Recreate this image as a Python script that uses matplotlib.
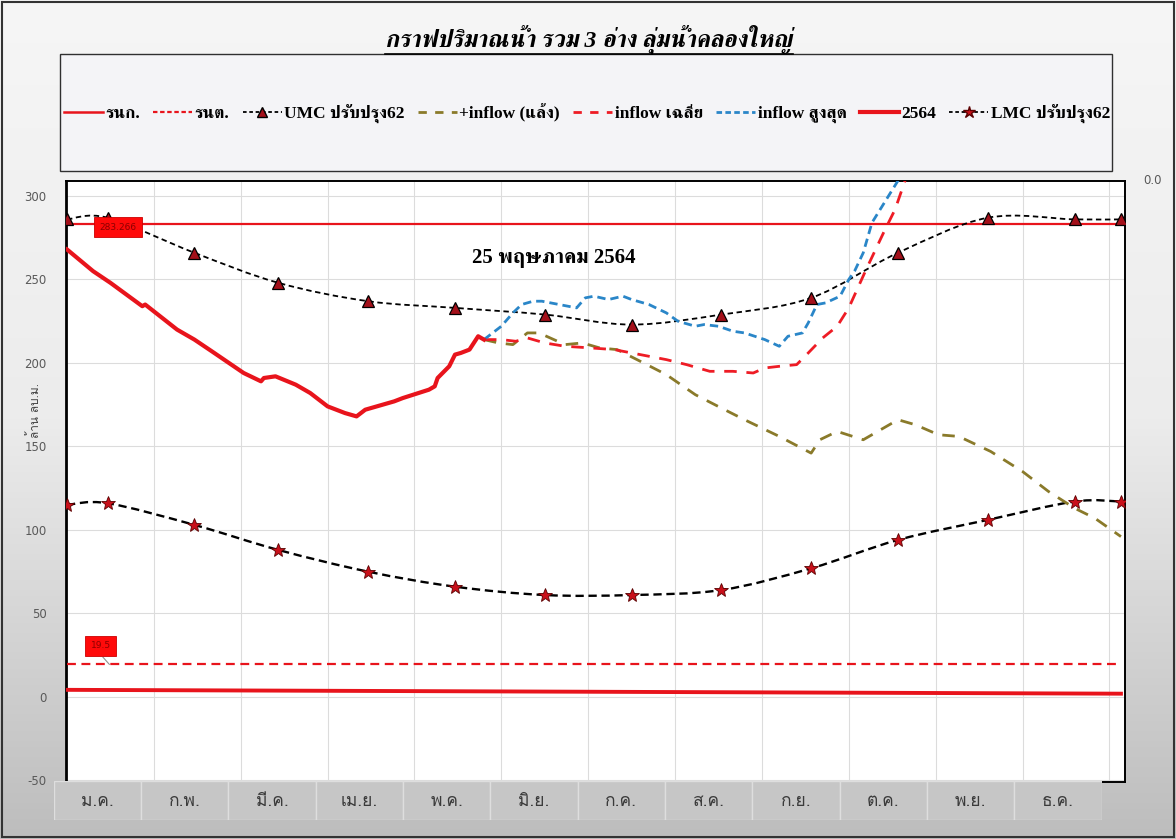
import numpy as np
import matplotlib
matplotlib.use('Agg')
import matplotlib.pyplot as plt
from matplotlib import font_manager
from matplotlib.ft2font import FT2Font
from matplotlib.path import Path
from matplotlib.patches import PathPatch, Rectangle
from matplotlib.lines import Line2D
from matplotlib.colors import LinearSegmentedColormap

# ---------------- data ----------------
months = ['ม.ค.', 'ก.พ.', 'มี.ค.', 'เม.ย.', 'พ.ค.', 'มิ.ย.', 'ก.ค.', 'ส.ค.', 'ก.ย.', 'ต.ค.', 'พ.ย.', 'ธ.ค.']

rule_days = [0, 364]
upper_rule = [283.266, 283.266]
lower_rule = [19.5, 19.5]
base_vals = [4.2, 1.9]

curve_days = [0, 14, 44, 73, 104, 134, 165, 195, 226, 257, 287, 318, 348, 364]
umc_vals = [286, 287, 266, 248, 237, 233, 229, 223, 229, 239, 266, 287, 286, 286]
lmc_vals = [115, 116, 103, 88, 75, 66, 61, 61, 64, 77, 94, 106, 117, 117]

y2564_days = [0, 9, 15, 26, 27, 38, 44, 50, 61, 67, 68, 72, 79, 84, 90, 96, 100, 103,
              113, 116, 125, 127, 128, 132, 134, 136, 139, 142, 144]
y2564_vals = [268, 255, 248, 234, 235, 220, 214, 207, 194, 189, 191, 192, 187, 182, 174, 170,
              168, 172, 177, 179, 184, 186, 191, 198, 205, 206, 208, 216, 214]

max_days = [144, 150, 154, 157, 161, 164, 170, 176, 179, 182, 187, 192, 195, 201, 207, 211,
            217, 220, 225, 230, 234, 241, 246, 249, 254, 256, 259, 262, 267, 270, 272, 275,
            278, 283, 288]
max_vals = [214, 222, 230, 235, 237, 237, 235, 233, 239, 240, 238, 240, 238, 235, 230, 225,
            222, 223, 222, 219, 218, 214, 210, 216, 218, 224, 235, 236, 240, 250, 255, 266,
            284, 298, 312]

avg_days = [144, 150, 155, 159, 165, 172, 181, 189, 198, 207, 214, 222, 230, 237, 241, 246,
            252, 256, 261, 266, 270, 276, 282, 286, 290]
avg_vals = [214, 214, 213, 215, 212, 210, 209, 208, 205, 202, 199, 195, 195, 194, 197, 198,
            199, 206, 215, 222, 233, 256, 278, 292, 312]

dry_days = [144, 149, 154, 159, 163, 172, 178, 184, 190, 198, 207, 217, 226, 234, 246, 257,
            260, 266, 275, 287, 293, 301, 308, 319, 330, 339, 348, 355, 364]
dry_vals = [214, 212, 211, 218, 218, 211, 212, 209, 208, 201, 193, 181, 173, 166, 156, 146,
            154, 159, 154, 166, 163, 157, 156, 147, 135, 123, 113, 107, 96]

yticks = [-50, 0, 50, 100, 150, 200, 250, 300]

# ---------------- fonts ----------------
def thai_families():
    serif, sans = [], []
    seen = set()
    for f in font_manager.fontManager.ttflist:
        if f.name in seen:
            continue
        try:
            cm = FT2Font(f.fname).get_charmap()
        except Exception:
            continue
        if 0x0E01 in cm and 0x0E33 in cm and 0x0E49 in cm:
            seen.add(f.name)
            low = f.name.lower()
            if 'serif' in low or 'norasi' in low or 'kinnari' in low:
                serif.append(f.name)
            else:
                sans.append(f.name)
    return serif, sans

th_serif, th_sans = thai_families()
TH_SERIF = (th_serif + th_sans)[:1]
TH_SANS = (th_sans + th_serif)[:1]
SERIF = ['Liberation Serif'] + TH_SERIF + ['DejaVu Sans']
SANS = TH_SANS + ['DejaVu Sans']
plt.rcParams['font.family'] = ['DejaVu Sans'] + TH_SANS
plt.rcParams['axes.unicode_minus'] = False

W, H = 1176, 839
def fx(x): return x / W
def fy(y): return 1 - y / H

fig = plt.figure(figsize=(W / 100, H / 100), dpi=100)

# background gradient
bg = fig.add_axes([0, 0, 1, 1], zorder=-10)
grad = np.linspace(0, 1, 256).reshape(-1, 1)
cmap = LinearSegmentedColormap.from_list('bg', ['#f6f6f6', '#ececec', '#bdbdbd'])
bg.imshow(grad, aspect='auto', cmap=cmap, extent=[0, 1, 0, 1], origin='upper')
bg.set_axis_off()

# main axes
ax = fig.add_axes([fx(66), fy(782), (1125 - 66) / W, (782 - 181) / H], zorder=1)
ax.set_facecolor('white')
ax.set_xlim(-0.35, 365.4)
ax.set_ylim(-51, 309)
ax.set_yticks(yticks)
ax.set_xticks(np.arange(30, 361, 30))
ax.set_xticklabels([])
ax.grid(True, color='#dcdcdc', lw=0.8)
ax.set_axisbelow(True)
ax.tick_params(axis='both', length=0)
ax.tick_params(axis='y', pad=14, labelsize=8.5, labelcolor='#595959')
for s in ['top', 'right', 'bottom']:
    ax.spines[s].set_linewidth(1.4)
    ax.spines[s].set_color('black')
ax.spines['left'].set_linewidth(2)

def smooth_path(xs, ys, t=1 / 6):
    verts = [(xs[0], ys[0])]
    codes = [Path.MOVETO]
    n = len(xs)
    for i in range(n - 1):
        i0, i3 = max(i - 1, 0), min(i + 2, n - 1)
        c1 = (xs[i] + (xs[i + 1] - xs[i0]) * t, ys[i] + (ys[i + 1] - ys[i0]) * t)
        c2 = (xs[i + 1] - (xs[i3] - xs[i]) * t, ys[i + 1] - (ys[i3] - ys[i]) * t)
        verts += [c1, c2, (xs[i + 1], ys[i + 1])]
        codes += [Path.CURVE4] * 3
    return Path(verts, codes)

RED = '#e8141c'
# rule curves
ax.plot(rule_days, upper_rule, color=RED, lw=1.6, zorder=3)
ax.plot(rule_days, lower_rule, color=RED, lw=1.6, ls=(0, (4, 2.5)), zorder=3)
ax.plot(rule_days, base_vals, color=RED, lw=2.8, zorder=3)

# UMC / LMC smoothed
ax.add_patch(PathPatch(smooth_path(curve_days, umc_vals), fill=False, ec='black', lw=1.3,
                       ls=(0, (3, 2)), zorder=4))
ax.plot(curve_days, umc_vals, ls='none', marker='^', ms=8, mfc='#a3101a', mec='black', mew=0.9, zorder=5)
ax.add_patch(PathPatch(smooth_path(curve_days, lmc_vals), fill=False, ec='black', lw=1.7,
                       ls=(0, (3.5, 2)), zorder=4))
ax.plot(curve_days, lmc_vals, ls='none', marker='*', ms=10, mfc='#c8101a', mec='#5a0000', mew=0.6, zorder=5)

# forecasts
ax.plot(dry_days, dry_vals, color='#8a7a2a', lw=2, ls=(0, (4.5, 3.5)), zorder=4)
ax.plot(avg_days, avg_vals, color='#ee1c25', lw=2, ls=(0, (4.5, 3.5)), zorder=4)
ax.plot(max_days, max_vals, color='#2a86c8', lw=2, ls=(0, (3, 1.8)), zorder=4)
# 2564
ax.plot(y2564_days, y2564_vals, color=RED, lw=3, zorder=6, solid_joinstyle='round')

# data labels
ax.text(17.7, 281.4, '283.266', ha='center', va='center', fontsize=6.5, color='#8b0000',
        family=['DejaVu Sans'], zorder=7,
        bbox=dict(boxstyle='square,pad=0.6', fc='#ff0a0a', ec='#cc0000', lw=0.6))
ax.plot([12.4, 14.6], [23.8, 19.5], color='#909090', lw=0.8, zorder=6)
ax.text(11.6, 30.5, '19.5', ha='center', va='center', fontsize=6.5, color='#8b0000',
        family=['DejaVu Sans'], zorder=7,
        bbox=dict(boxstyle='square,pad=0.6', fc='#ff0a0a', ec='#cc0000', lw=0.6))

ax.text(168, 263, '25 พฤษภาคม 2564', ha='center', va='center', fontsize=15,
        fontweight='bold', family=SERIF, zorder=8)

# month label table
tab = fig.add_axes([fx(53.6), fy(820), (1101.5 - 53.6) / W, (820 - 781) / H], zorder=3)
tab.set_xlim(0, 12)
tab.set_ylim(0, 1)
tab.set_axis_off()
for i, m in enumerate(months):
    tab.add_patch(Rectangle((i, 0), 1, 1, fc='#c6c6c6', ec='#dedede', lw=1.0))
    tab.text(i + 0.5, 0.47, m, ha='center', va='center', fontsize=12.5, color='#3a3a3a', family=SANS)

# y label, secondary "0.0"
fig.text(fx(34), fy(411), 'ล้าน ลบ.ม.', rotation=90, ha='center', va='center', fontsize=8.5,
         color='#404040', family=SANS)
fig.text(fx(1152), fy(181), '0.0', ha='center', va='center', fontsize=8.5, color='#595959',
         family=['DejaVu Sans'])

# legend box
fig.patches.append(Rectangle((fx(60), fy(171)), (1112 - 60) / W, (171 - 54) / H,
                             transform=fig.transFigure, fc='#f4f4f7', ec='#303030', lw=1.0, zorder=1))
handles = [
    Line2D([], [], color=RED, lw=1.8),
    Line2D([], [], color=RED, lw=1.6, ls=(0, (2, 1.2))),
    Line2D([], [], color='black', lw=1.3, ls=(0, (2, 1.5)), marker='^', ms=7, mfc='#a3101a', mec='black'),
    Line2D([], [], color='#8a7a2a', lw=2, ls=(0, (3, 3))),
    Line2D([], [], color='#ee1c25', lw=2, ls=(0, (3, 3))),
    Line2D([], [], color='#2a86c8', lw=2, ls=(0, (2, 1.2))),
    Line2D([], [], color=RED, lw=3),
    Line2D([], [], color='black', lw=1.3, ls=(0, (2, 1.5)), marker='*', ms=9, mfc='#c8101a', mec='#5a0000'),
]
labels = ['รนก.', 'รนต.', 'UMC ปรับปรุง62', '+inflow (แล้ง)', 'inflow เฉลี่ย', 'inflow สูงสุด', '2564', 'LMC ปรับปรุง62']
leg = fig.legend(handles, labels, loc='center', bbox_to_anchor=(fx(587), fy(113)), ncol=8,
                 frameon=False, handlelength=2.25, handletextpad=0.15, columnspacing=0.75,
                 prop=dict(family=SERIF, weight='bold', size=12.5))
leg.set_zorder(5)

# title with underline
title = fig.text(fx(589), fy(40), 'กราฟปริมาณน้ำ รวม 3 อ่าง ลุ่มน้ำคลองใหญ่', ha='center', va='center',
                 fontsize=17, fontstyle='italic', fontweight='bold', family=SERIF)
fig.canvas.draw()
bb = title.get_window_extent()
uy = bb.y0 + 1
fig.add_artist(Line2D([bb.x0 / W, bb.x1 / W], [uy / H, uy / H], transform=fig.transFigure,
                      color='black', lw=1.2))

# outer frame
fig.patches.append(Rectangle((0.002, 0.002), 0.996, 0.996, transform=fig.transFigure, fill=False,
                             ec='#333333', lw=1.5, zorder=10))

fig.savefig('out.png', dpi=100)
